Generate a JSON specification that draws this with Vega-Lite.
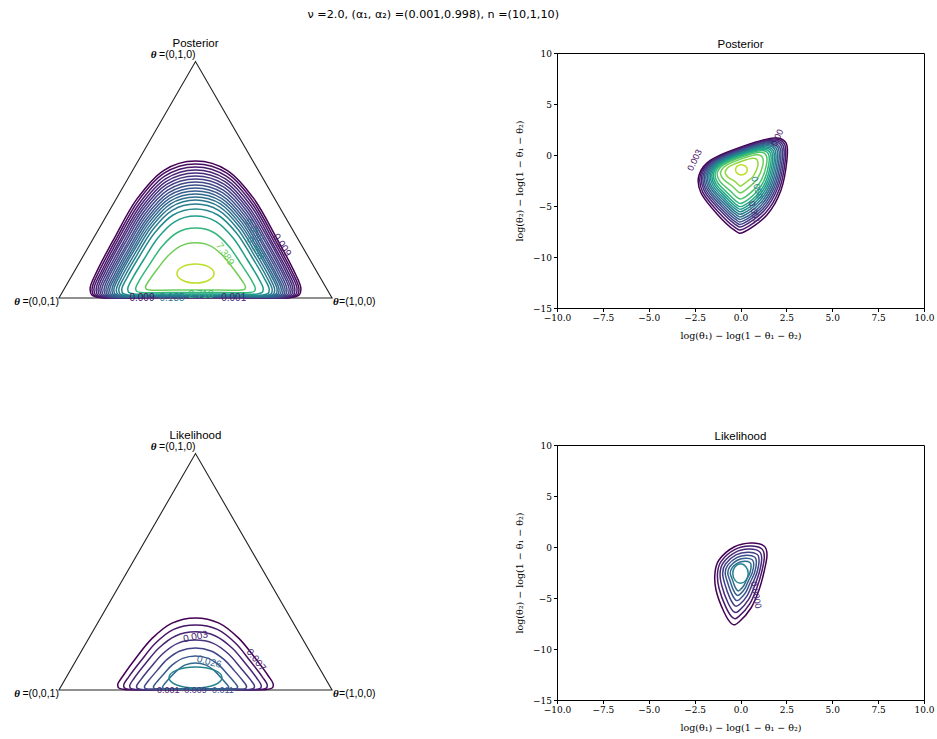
{
"$schema":"https://vega.github.io/schema/vega-lite/v6.json",
"padding":{"left":12,"top":8,"right":5,"bottom":5},
"title":{"text":"ν =2.0, (α₁, α₂) =(0.001,0.998), n =(10,1,10)","font":"DejaVu Sans","fontSize":11.2,"fontWeight":"normal","fontStyle":"normal","color":"#000","anchor":"middle","offset":18,"dx":-40},
"config":{"view":{"stroke":null},"axis":{"grid":false,"domainColor":"#000","tickColor":"#000","labelColor":"#000","titleColor":"#000","labelFont":"DejaVu Serif","titleFont":"DejaVu Serif","labelFontSize":9,"titleFontSize":9.5,"titleFontWeight":"normal","tickSize":3.5,"labelFlush":false,"labelOverlap":false,"titlePadding":8},"title":{"font":"Liberation Sans","fontSize":11.5,"fontWeight":"normal","color":"#000","offset":-1}},
"datasets":{
"tri":[{"x":0,"y":0},{"x":1,"y":0},{"x":0.5,"y":0.866}],
"ptl":[{"c":0,"t":0},{"c":1,"t":0.03},{"c":2,"t":0.06},{"c":3,"t":0.09},{"c":4,"t":0.12},{"c":5,"t":0.15},{"c":6,"t":0.18},{"c":7,"t":0.21},{"c":8,"t":0.24},{"c":9,"t":0.27},{"c":10,"t":0.3},{"c":11,"t":0.33},{"c":12,"t":0.36},{"c":13,"t":0.39},{"c":14,"t":0.42},{"c":15,"t":0.47},{"c":16,"t":0.55},{"c":17,"t":0.66},{"c":18,"t":0.78},{"c":19,"t":0.9}],
"pcl":[{"c":0,"t":0},{"c":1,"t":0.06},{"c":2,"t":0.12},{"c":3,"t":0.18},{"c":4,"t":0.24},{"c":5,"t":0.3},{"c":6,"t":0.36},{"c":7,"t":0.42},{"c":8,"t":0.48},{"c":9,"t":0.54},{"c":10,"t":0.6},{"c":11,"t":0.66},{"c":12,"t":0.72},{"c":13,"t":0.78},{"c":14,"t":0.84},{"c":15,"t":0.9}],
"ltl":[{"c":0,"t":0},{"c":1,"t":0.05},{"c":2,"t":0.1},{"c":3,"t":0.15},{"c":4,"t":0.2},{"c":5,"t":0.27},{"c":6,"t":0.34},{"c":7,"t":0.45}],
"lcl":[{"c":0,"t":0},{"c":1,"t":0.06},{"c":2,"t":0.12},{"c":3,"t":0.18},{"c":4,"t":0.24},{"c":5,"t":0.3},{"c":6,"t":0.36},{"c":7,"t":0.45}],
"pt":[
{"c":0,"x":0.5,"y":0.502},{"c":0,"x":0.617,"y":0.467},{"c":0,"x":0.715,"y":0.362},{"c":0,"x":0.793,"y":0.227},{"c":0,"x":0.859,"y":0.102},{"c":0,"x":0.886,"y":0.032},{"c":0,"x":0.851,"y":0.002},{"c":0,"x":0.676,"y":0.002},{"c":0,"x":0.324,"y":0.002},{"c":0,"x":0.149,"y":0.002},{"c":0,"x":0.114,"y":0.032},{"c":0,"x":0.141,"y":0.102},{"c":0,"x":0.207,"y":0.227},{"c":0,"x":0.285,"y":0.362},{"c":0,"x":0.383,"y":0.467},
{"c":1,"x":0.5,"y":0.491},{"c":1,"x":0.615,"y":0.457},{"c":1,"x":0.711,"y":0.354},{"c":1,"x":0.787,"y":0.222},{"c":1,"x":0.852,"y":0.1},{"c":1,"x":0.879,"y":0.031},{"c":1,"x":0.845,"y":0.002},{"c":1,"x":0.672,"y":0.002},{"c":1,"x":0.328,"y":0.002},{"c":1,"x":0.155,"y":0.002},{"c":1,"x":0.121,"y":0.031},{"c":1,"x":0.148,"y":0.1},{"c":1,"x":0.213,"y":0.222},{"c":1,"x":0.289,"y":0.354},{"c":1,"x":0.385,"y":0.457},
{"c":2,"x":0.5,"y":0.48},{"c":2,"x":0.613,"y":0.446},{"c":2,"x":0.707,"y":0.346},{"c":2,"x":0.782,"y":0.217},{"c":2,"x":0.846,"y":0.097},{"c":2,"x":0.872,"y":0.031},{"c":2,"x":0.838,"y":0.002},{"c":2,"x":0.669,"y":0.002},{"c":2,"x":0.331,"y":0.002},{"c":2,"x":0.162,"y":0.002},{"c":2,"x":0.128,"y":0.031},{"c":2,"x":0.155,"y":0.097},{"c":2,"x":0.218,"y":0.217},{"c":2,"x":0.294,"y":0.346},{"c":2,"x":0.387,"y":0.446},
{"c":3,"x":0.5,"y":0.469},{"c":3,"x":0.61,"y":0.436},{"c":3,"x":0.703,"y":0.338},{"c":3,"x":0.776,"y":0.212},{"c":3,"x":0.839,"y":0.095},{"c":3,"x":0.864,"y":0.03},{"c":3,"x":0.831,"y":0.002},{"c":3,"x":0.666,"y":0.002},{"c":3,"x":0.334,"y":0.002},{"c":3,"x":0.169,"y":0.002},{"c":3,"x":0.136,"y":0.03},{"c":3,"x":0.161,"y":0.095},{"c":3,"x":0.224,"y":0.212},{"c":3,"x":0.298,"y":0.338},{"c":3,"x":0.39,"y":0.436},
{"c":4,"x":0.5,"y":0.458},{"c":4,"x":0.608,"y":0.426},{"c":4,"x":0.698,"y":0.33},{"c":4,"x":0.771,"y":0.208},{"c":4,"x":0.832,"y":0.094},{"c":4,"x":0.857,"y":0.03},{"c":4,"x":0.825,"y":0.003},{"c":4,"x":0.662,"y":0.003},{"c":4,"x":0.338,"y":0.003},{"c":4,"x":0.175,"y":0.003},{"c":4,"x":0.143,"y":0.03},{"c":4,"x":0.168,"y":0.094},{"c":4,"x":0.229,"y":0.208},{"c":4,"x":0.302,"y":0.33},{"c":4,"x":0.392,"y":0.426},
{"c":5,"x":0.5,"y":0.447},{"c":5,"x":0.606,"y":0.416},{"c":5,"x":0.694,"y":0.323},{"c":5,"x":0.765,"y":0.203},{"c":5,"x":0.825,"y":0.092},{"c":5,"x":0.85,"y":0.03},{"c":5,"x":0.818,"y":0.003},{"c":5,"x":0.659,"y":0.003},{"c":5,"x":0.341,"y":0.003},{"c":5,"x":0.182,"y":0.003},{"c":5,"x":0.15,"y":0.03},{"c":5,"x":0.175,"y":0.092},{"c":5,"x":0.235,"y":0.203},{"c":5,"x":0.306,"y":0.323},{"c":5,"x":0.394,"y":0.416},
{"c":6,"x":0.5,"y":0.436},{"c":6,"x":0.604,"y":0.406},{"c":6,"x":0.69,"y":0.315},{"c":6,"x":0.76,"y":0.198},{"c":6,"x":0.819,"y":0.09},{"c":6,"x":0.843,"y":0.03},{"c":6,"x":0.812,"y":0.004},{"c":6,"x":0.656,"y":0.004},{"c":6,"x":0.344,"y":0.004},{"c":6,"x":0.188,"y":0.004},{"c":6,"x":0.157,"y":0.03},{"c":6,"x":0.182,"y":0.09},{"c":6,"x":0.24,"y":0.198},{"c":6,"x":0.31,"y":0.315},{"c":6,"x":0.396,"y":0.406},
{"c":7,"x":0.5,"y":0.425},{"c":7,"x":0.602,"y":0.395},{"c":7,"x":0.686,"y":0.307},{"c":7,"x":0.754,"y":0.193},{"c":7,"x":0.812,"y":0.088},{"c":7,"x":0.835,"y":0.029},{"c":7,"x":0.805,"y":0.004},{"c":7,"x":0.653,"y":0.004},{"c":7,"x":0.347,"y":0.004},{"c":7,"x":0.195,"y":0.004},{"c":7,"x":0.165,"y":0.029},{"c":7,"x":0.188,"y":0.088},{"c":7,"x":0.246,"y":0.193},{"c":7,"x":0.314,"y":0.307},{"c":7,"x":0.398,"y":0.395},
{"c":8,"x":0.5,"y":0.414},{"c":8,"x":0.6,"y":0.385},{"c":8,"x":0.682,"y":0.299},{"c":8,"x":0.749,"y":0.189},{"c":8,"x":0.805,"y":0.086},{"c":8,"x":0.828,"y":0.029},{"c":8,"x":0.798,"y":0.004},{"c":8,"x":0.649,"y":0.004},{"c":8,"x":0.351,"y":0.004},{"c":8,"x":0.202,"y":0.004},{"c":8,"x":0.172,"y":0.029},{"c":8,"x":0.195,"y":0.086},{"c":8,"x":0.251,"y":0.189},{"c":8,"x":0.318,"y":0.299},{"c":8,"x":0.401,"y":0.385},
{"c":9,"x":0.5,"y":0.403},{"c":9,"x":0.597,"y":0.375},{"c":9,"x":0.678,"y":0.291},{"c":9,"x":0.743,"y":0.184},{"c":9,"x":0.798,"y":0.084},{"c":9,"x":0.821,"y":0.029},{"c":9,"x":0.792,"y":0.005},{"c":9,"x":0.646,"y":0.005},{"c":9,"x":0.354,"y":0.005},{"c":9,"x":0.208,"y":0.005},{"c":9,"x":0.179,"y":0.029},{"c":9,"x":0.202,"y":0.084},{"c":9,"x":0.257,"y":0.184},{"c":9,"x":0.322,"y":0.291},{"c":9,"x":0.403,"y":0.375},
{"c":10,"x":0.5,"y":0.392},{"c":10,"x":0.595,"y":0.365},{"c":10,"x":0.674,"y":0.284},{"c":10,"x":0.738,"y":0.179},{"c":10,"x":0.792,"y":0.083},{"c":10,"x":0.814,"y":0.029},{"c":10,"x":0.785,"y":0.006},{"c":10,"x":0.643,"y":0.006},{"c":10,"x":0.357,"y":0.006},{"c":10,"x":0.215,"y":0.006},{"c":10,"x":0.186,"y":0.029},{"c":10,"x":0.209,"y":0.083},{"c":10,"x":0.262,"y":0.179},{"c":10,"x":0.326,"y":0.284},{"c":10,"x":0.405,"y":0.365},
{"c":11,"x":0.5,"y":0.381},{"c":11,"x":0.593,"y":0.355},{"c":11,"x":0.67,"y":0.276},{"c":11,"x":0.732,"y":0.175},{"c":11,"x":0.785,"y":0.081},{"c":11,"x":0.806,"y":0.029},{"c":11,"x":0.779,"y":0.006},{"c":11,"x":0.639,"y":0.006},{"c":11,"x":0.361,"y":0.006},{"c":11,"x":0.221,"y":0.006},{"c":11,"x":0.194,"y":0.029},{"c":11,"x":0.215,"y":0.081},{"c":11,"x":0.268,"y":0.175},{"c":11,"x":0.33,"y":0.276},{"c":11,"x":0.407,"y":0.355},
{"c":12,"x":0.5,"y":0.37},{"c":12,"x":0.591,"y":0.345},{"c":12,"x":0.666,"y":0.268},{"c":12,"x":0.727,"y":0.171},{"c":12,"x":0.778,"y":0.08},{"c":12,"x":0.799,"y":0.029},{"c":12,"x":0.772,"y":0.007},{"c":12,"x":0.636,"y":0.007},{"c":12,"x":0.364,"y":0.007},{"c":12,"x":0.228,"y":0.007},{"c":12,"x":0.201,"y":0.029},{"c":12,"x":0.222,"y":0.08},{"c":12,"x":0.273,"y":0.171},{"c":12,"x":0.334,"y":0.268},{"c":12,"x":0.409,"y":0.345},
{"c":13,"x":0.5,"y":0.359},{"c":13,"x":0.588,"y":0.334},{"c":13,"x":0.661,"y":0.261},{"c":13,"x":0.72,"y":0.166},{"c":13,"x":0.77,"y":0.078},{"c":13,"x":0.79,"y":0.029},{"c":13,"x":0.764,"y":0.008},{"c":13,"x":0.632,"y":0.008},{"c":13,"x":0.368,"y":0.008},{"c":13,"x":0.236,"y":0.008},{"c":13,"x":0.21,"y":0.029},{"c":13,"x":0.23,"y":0.078},{"c":13,"x":0.28,"y":0.166},{"c":13,"x":0.339,"y":0.261},{"c":13,"x":0.412,"y":0.334},
{"c":14,"x":0.5,"y":0.344},{"c":14,"x":0.585,"y":0.321},{"c":14,"x":0.656,"y":0.251},{"c":14,"x":0.713,"y":0.16},{"c":14,"x":0.761,"y":0.076},{"c":14,"x":0.781,"y":0.029},{"c":14,"x":0.756,"y":0.009},{"c":14,"x":0.628,"y":0.009},{"c":14,"x":0.372,"y":0.009},{"c":14,"x":0.245,"y":0.009},{"c":14,"x":0.219,"y":0.029},{"c":14,"x":0.239,"y":0.076},{"c":14,"x":0.287,"y":0.16},{"c":14,"x":0.344,"y":0.251},{"c":14,"x":0.415,"y":0.321},
{"c":15,"x":0.5,"y":0.326},{"c":15,"x":0.582,"y":0.304},{"c":15,"x":0.65,"y":0.238},{"c":15,"x":0.705,"y":0.153},{"c":15,"x":0.751,"y":0.074},{"c":15,"x":0.77,"y":0.03},{"c":15,"x":0.746,"y":0.011},{"c":15,"x":0.623,"y":0.011},{"c":15,"x":0.377,"y":0.011},{"c":15,"x":0.254,"y":0.011},{"c":15,"x":0.23,"y":0.03},{"c":15,"x":0.249,"y":0.074},{"c":15,"x":0.295,"y":0.153},{"c":15,"x":0.35,"y":0.238},{"c":15,"x":0.418,"y":0.304},
{"c":16,"x":0.5,"y":0.3},{"c":16,"x":0.575,"y":0.28},{"c":16,"x":0.638,"y":0.22},{"c":16,"x":0.688,"y":0.143},{"c":16,"x":0.731,"y":0.072},{"c":16,"x":0.748,"y":0.032},{"c":16,"x":0.726,"y":0.015},{"c":16,"x":0.613,"y":0.015},{"c":16,"x":0.387,"y":0.015},{"c":16,"x":0.274,"y":0.015},{"c":16,"x":0.252,"y":0.032},{"c":16,"x":0.269,"y":0.072},{"c":16,"x":0.312,"y":0.143},{"c":16,"x":0.362,"y":0.22},{"c":16,"x":0.425,"y":0.28},
{"c":17,"x":0.5,"y":0.256},{"c":17,"x":0.567,"y":0.24},{"c":17,"x":0.622,"y":0.19},{"c":17,"x":0.666,"y":0.126},{"c":17,"x":0.704,"y":0.067},{"c":17,"x":0.719,"y":0.034},{"c":17,"x":0.699,"y":0.02},{"c":17,"x":0.6,"y":0.02},{"c":17,"x":0.4,"y":0.02},{"c":17,"x":0.301,"y":0.02},{"c":17,"x":0.281,"y":0.034},{"c":17,"x":0.296,"y":0.067},{"c":17,"x":0.334,"y":0.126},{"c":17,"x":0.378,"y":0.19},{"c":17,"x":0.434,"y":0.24},
{"c":18,"x":0.5,"y":0.202},{"c":18,"x":0.556,"y":0.19},{"c":18,"x":0.602,"y":0.153},{"c":18,"x":0.639,"y":0.107},{"c":18,"x":0.67,"y":0.064},{"c":18,"x":0.683,"y":0.04},{"c":18,"x":0.667,"y":0.029},{"c":18,"x":0.583,"y":0.029},{"c":18,"x":0.417,"y":0.029},{"c":18,"x":0.334,"y":0.029},{"c":18,"x":0.317,"y":0.04},{"c":18,"x":0.33,"y":0.064},{"c":18,"x":0.361,"y":0.107},{"c":18,"x":0.398,"y":0.153},{"c":18,"x":0.445,"y":0.19},
{"c":19,"x":0.5,"y":0.1245},{"c":19,"x":0.548,"y":0.1143},{"c":19,"x":0.568,"y":0.0897},{"c":19,"x":0.548,"y":0.0651},{"c":19,"x":0.5,"y":0.0549},{"c":19,"x":0.452,"y":0.0651},{"c":19,"x":0.432,"y":0.0897},{"c":19,"x":0.452,"y":0.1143}
],
"pc":[
{"c":0,"x":-1.61,"y":-0.49},{"c":0,"x":0.19,"y":0.88},{"c":0,"x":1.83,"y":1.67},{"c":0,"x":2.48,"y":1.18},{"c":0,"x":2.53,"y":-0.49},{"c":0,"x":2.21,"y":-3.43},{"c":0,"x":1.44,"y":-5.88},{"c":0,"x":0.19,"y":-7.55},{"c":0,"x":-0.35,"y":-7.35},{"c":0,"x":-1.28,"y":-5.78},{"c":0,"x":-2.15,"y":-3.73},{"c":0,"x":-2.26,"y":-1.96},
{"c":1,"x":-1.554,"y":-0.525},{"c":1,"x":0.183,"y":0.797},{"c":1,"x":1.766,"y":1.559},{"c":1,"x":2.393,"y":1.086},{"c":1,"x":2.441,"y":-0.525},{"c":1,"x":2.116,"y":-3.348},{"c":1,"x":1.368,"y":-5.661},{"c":1,"x":0.181,"y":-7.248},{"c":1,"x":-0.333,"y":-7.058},{"c":1,"x":-1.216,"y":-5.566},{"c":1,"x":-2.059,"y":-3.635},{"c":1,"x":-2.181,"y":-1.944},
{"c":2,"x":-1.497,"y":-0.561},{"c":2,"x":0.177,"y":0.713},{"c":2,"x":1.702,"y":1.448},{"c":2,"x":2.306,"y":0.992},{"c":2,"x":2.353,"y":-0.561},{"c":2,"x":2.022,"y":-3.266},{"c":2,"x":1.296,"y":-5.442},{"c":2,"x":0.171,"y":-6.945},{"c":2,"x":-0.315,"y":-6.765},{"c":2,"x":-1.152,"y":-5.352},{"c":2,"x":-1.967,"y":-3.54},{"c":2,"x":-2.102,"y":-1.928},
{"c":3,"x":-1.441,"y":-0.596},{"c":3,"x":0.17,"y":0.63},{"c":3,"x":1.638,"y":1.337},{"c":3,"x":2.22,"y":0.899},{"c":3,"x":2.264,"y":-0.596},{"c":3,"x":1.939,"y":-3.194},{"c":3,"x":1.238,"y":-5.267},{"c":3,"x":0.163,"y":-6.703},{"c":3,"x":-0.301,"y":-6.531},{"c":3,"x":-1.101,"y":-5.181},{"c":3,"x":-1.887,"y":-3.457},{"c":3,"x":-2.023,"y":-1.912},
{"c":4,"x":-1.385,"y":-0.631},{"c":4,"x":0.163,"y":0.547},{"c":4,"x":1.574,"y":1.226},{"c":4,"x":2.133,"y":0.805},{"c":4,"x":2.176,"y":-0.631},{"c":4,"x":1.856,"y":-3.121},{"c":4,"x":1.181,"y":-5.092},{"c":4,"x":0.156,"y":-6.461},{"c":4,"x":-0.287,"y":-6.297},{"c":4,"x":-1.05,"y":-5.01},{"c":4,"x":-1.806,"y":-3.373},{"c":4,"x":-1.944,"y":-1.896},
{"c":5,"x":-1.328,"y":-0.667},{"c":5,"x":0.157,"y":0.464},{"c":5,"x":1.51,"y":1.115},{"c":5,"x":2.046,"y":0.711},{"c":5,"x":2.087,"y":-0.667},{"c":5,"x":1.774,"y":-3.049},{"c":5,"x":1.123,"y":-4.916},{"c":5,"x":0.148,"y":-6.219},{"c":5,"x":-0.273,"y":-6.063},{"c":5,"x":-0.998,"y":-4.838},{"c":5,"x":-1.725,"y":-3.29},{"c":5,"x":-1.865,"y":-1.88},
{"c":6,"x":-1.272,"y":-0.702},{"c":6,"x":0.15,"y":0.38},{"c":6,"x":1.446,"y":1.004},{"c":6,"x":1.959,"y":0.617},{"c":6,"x":1.999,"y":-0.702},{"c":6,"x":1.691,"y":-2.976},{"c":6,"x":1.066,"y":-4.741},{"c":6,"x":0.141,"y":-5.977},{"c":6,"x":-0.259,"y":-5.829},{"c":6,"x":-0.947,"y":-4.667},{"c":6,"x":-1.645,"y":-3.206},{"c":6,"x":-1.785,"y":-1.863},
{"c":7,"x":-1.216,"y":-0.737},{"c":7,"x":0.143,"y":0.297},{"c":7,"x":1.382,"y":0.893},{"c":7,"x":1.872,"y":0.523},{"c":7,"x":1.91,"y":-0.737},{"c":7,"x":1.608,"y":-2.904},{"c":7,"x":1.008,"y":-4.566},{"c":7,"x":0.133,"y":-5.735},{"c":7,"x":-0.245,"y":-5.595},{"c":7,"x":-0.896,"y":-4.496},{"c":7,"x":-1.564,"y":-3.122},{"c":7,"x":-1.706,"y":-1.847},
{"c":8,"x":-1.159,"y":-0.773},{"c":8,"x":0.137,"y":0.214},{"c":8,"x":1.318,"y":0.782},{"c":8,"x":1.786,"y":0.43},{"c":8,"x":1.822,"y":-0.773},{"c":8,"x":1.525,"y":-2.832},{"c":8,"x":0.95,"y":-4.391},{"c":8,"x":0.125,"y":-5.493},{"c":8,"x":-0.231,"y":-5.361},{"c":8,"x":-0.845,"y":-4.325},{"c":8,"x":-1.484,"y":-3.039},{"c":8,"x":-1.627,"y":-1.831},
{"c":9,"x":-1.103,"y":-0.808},{"c":9,"x":0.13,"y":0.13},{"c":9,"x":1.254,"y":0.671},{"c":9,"x":1.699,"y":0.336},{"c":9,"x":1.733,"y":-0.808},{"c":9,"x":1.442,"y":-2.759},{"c":9,"x":0.893,"y":-4.216},{"c":9,"x":0.118,"y":-5.251},{"c":9,"x":-0.217,"y":-5.127},{"c":9,"x":-0.794,"y":-4.154},{"c":9,"x":-1.403,"y":-2.955},{"c":9,"x":-1.548,"y":-1.815},
{"c":10,"x":-1.047,"y":-0.843},{"c":10,"x":0.124,"y":0.047},{"c":10,"x":1.19,"y":0.561},{"c":10,"x":1.612,"y":0.242},{"c":10,"x":1.645,"y":-0.843},{"c":10,"x":1.359,"y":-2.687},{"c":10,"x":0.835,"y":-4.04},{"c":10,"x":0.11,"y":-5.009},{"c":10,"x":-0.203,"y":-4.893},{"c":10,"x":-0.742,"y":-3.982},{"c":10,"x":-1.322,"y":-2.871},{"c":10,"x":-1.469,"y":-1.799},
{"c":11,"x":-0.982,"y":-0.884},{"c":11,"x":0.116,"y":-0.048},{"c":11,"x":1.116,"y":0.434},{"c":11,"x":1.513,"y":0.135},{"c":11,"x":1.543,"y":-0.884},{"c":11,"x":1.26,"y":-2.6},{"c":11,"x":0.763,"y":-3.821},{"c":11,"x":0.101,"y":-4.707},{"c":11,"x":-0.186,"y":-4.601},{"c":11,"x":-0.678,"y":-3.768},{"c":11,"x":-1.226,"y":-2.771},{"c":11,"x":-1.379,"y":-1.781},
{"c":12,"x":-0.902,"y":-0.934},{"c":12,"x":0.106,"y":-0.167},{"c":12,"x":1.025,"y":0.275},{"c":12,"x":1.389,"y":0.001},{"c":12,"x":1.417,"y":-0.934},{"c":12,"x":1.127,"y":-2.484},{"c":12,"x":0.662,"y":-3.515},{"c":12,"x":0.087,"y":-4.283},{"c":12,"x":-0.161,"y":-4.191},{"c":12,"x":-0.589,"y":-3.469},{"c":12,"x":-1.097,"y":-2.637},{"c":12,"x":-1.266,"y":-1.758},
{"c":13,"x":-0.773,"y":-1.015},{"c":13,"x":0.091,"y":-0.358},{"c":13,"x":0.878,"y":0.022},{"c":13,"x":1.19,"y":-0.214},{"c":13,"x":1.214,"y":-1.015},{"c":13,"x":0.928,"y":-2.311},{"c":13,"x":0.518,"y":-3.077},{"c":13,"x":0.068,"y":-3.678},{"c":13,"x":-0.126,"y":-3.606},{"c":13,"x":-0.461,"y":-3.041},{"c":13,"x":-0.903,"y":-2.437},{"c":13,"x":-1.085,"y":-1.721},
{"c":14,"x":-0.596,"y":-1.126},{"c":14,"x":0.07,"y":-0.619},{"c":14,"x":0.677,"y":-0.327},{"c":14,"x":0.918,"y":-0.508},{"c":14,"x":0.936,"y":-1.126},{"c":14,"x":0.685,"y":-2.098},{"c":14,"x":0.36,"y":-2.595},{"c":14,"x":0.048,"y":-3.013},{"c":14,"x":-0.088,"y":-2.963},{"c":14,"x":-0.32,"y":-2.57},{"c":14,"x":-0.667,"y":-2.191},{"c":14,"x":-0.836,"y":-1.67},
{"c":15,"x":0.05,"y":-0.95},{"c":15,"x":0.276,"y":-1.096},{"c":15,"x":0.37,"y":-1.45},{"c":15,"x":0.276,"y":-1.804},{"c":15,"x":0.05,"y":-1.95},{"c":15,"x":-0.176,"y":-1.804},{"c":15,"x":-0.27,"y":-1.45},{"c":15,"x":-0.176,"y":-1.096}
],
"lt":[
{"c":0,"x":0.5,"y":0.264},{"c":0,"x":0.586,"y":0.245},{"c":0,"x":0.658,"y":0.19},{"c":0,"x":0.716,"y":0.12},{"c":0,"x":0.765,"y":0.054},{"c":0,"x":0.785,"y":0.018},{"c":0,"x":0.759,"y":0.002},{"c":0,"x":0.629,"y":0.002},{"c":0,"x":0.371,"y":0.002},{"c":0,"x":0.241,"y":0.002},{"c":0,"x":0.215,"y":0.018},{"c":0,"x":0.236,"y":0.054},{"c":0,"x":0.284,"y":0.12},{"c":0,"x":0.342,"y":0.19},{"c":0,"x":0.414,"y":0.245},
{"c":1,"x":0.5,"y":0.238},{"c":1,"x":0.58,"y":0.222},{"c":1,"x":0.646,"y":0.172},{"c":1,"x":0.699,"y":0.108},{"c":1,"x":0.744,"y":0.049},{"c":1,"x":0.763,"y":0.016},{"c":1,"x":0.739,"y":0.002},{"c":1,"x":0.62,"y":0.002},{"c":1,"x":0.381,"y":0.002},{"c":1,"x":0.261,"y":0.002},{"c":1,"x":0.237,"y":0.016},{"c":1,"x":0.256,"y":0.049},{"c":1,"x":0.301,"y":0.108},{"c":1,"x":0.354,"y":0.172},{"c":1,"x":0.42,"y":0.222},
{"c":2,"x":0.5,"y":0.213},{"c":2,"x":0.573,"y":0.198},{"c":2,"x":0.634,"y":0.154},{"c":2,"x":0.683,"y":0.097},{"c":2,"x":0.724,"y":0.044},{"c":2,"x":0.741,"y":0.014},{"c":2,"x":0.719,"y":0.002},{"c":2,"x":0.61,"y":0.002},{"c":2,"x":0.39,"y":0.002},{"c":2,"x":0.281,"y":0.002},{"c":2,"x":0.259,"y":0.014},{"c":2,"x":0.276,"y":0.044},{"c":2,"x":0.317,"y":0.097},{"c":2,"x":0.366,"y":0.154},{"c":2,"x":0.427,"y":0.198},
{"c":3,"x":0.5,"y":0.183},{"c":3,"x":0.565,"y":0.171},{"c":3,"x":0.62,"y":0.133},{"c":3,"x":0.663,"y":0.084},{"c":3,"x":0.701,"y":0.038},{"c":3,"x":0.716,"y":0.013},{"c":3,"x":0.696,"y":0.002},{"c":3,"x":0.598,"y":0.002},{"c":3,"x":0.402,"y":0.002},{"c":3,"x":0.304,"y":0.002},{"c":3,"x":0.284,"y":0.013},{"c":3,"x":0.3,"y":0.038},{"c":3,"x":0.337,"y":0.084},{"c":3,"x":0.38,"y":0.133},{"c":3,"x":0.435,"y":0.171},
{"c":4,"x":0.5,"y":0.154},{"c":4,"x":0.557,"y":0.143},{"c":4,"x":0.604,"y":0.112},{"c":4,"x":0.642,"y":0.071},{"c":4,"x":0.674,"y":0.033},{"c":4,"x":0.687,"y":0.012},{"c":4,"x":0.67,"y":0.003},{"c":4,"x":0.585,"y":0.003},{"c":4,"x":0.415,"y":0.003},{"c":4,"x":0.33,"y":0.003},{"c":4,"x":0.313,"y":0.012},{"c":4,"x":0.327,"y":0.033},{"c":4,"x":0.359,"y":0.071},{"c":4,"x":0.396,"y":0.112},{"c":4,"x":0.443,"y":0.143},
{"c":5,"x":0.5,"y":0.125},{"c":5,"x":0.547,"y":0.116},{"c":5,"x":0.586,"y":0.091},{"c":5,"x":0.617,"y":0.058},{"c":5,"x":0.643,"y":0.028},{"c":5,"x":0.654,"y":0.011},{"c":5,"x":0.64,"y":0.003},{"c":5,"x":0.57,"y":0.003},{"c":5,"x":0.43,"y":0.003},{"c":5,"x":0.36,"y":0.003},{"c":5,"x":0.346,"y":0.011},{"c":5,"x":0.357,"y":0.028},{"c":5,"x":0.383,"y":0.058},{"c":5,"x":0.414,"y":0.091},{"c":5,"x":0.453,"y":0.116},
{"c":6,"x":0.5,"y":0.099},{"c":6,"x":0.537,"y":0.092},{"c":6,"x":0.568,"y":0.072},{"c":6,"x":0.592,"y":0.047},{"c":6,"x":0.613,"y":0.023},{"c":6,"x":0.622,"y":0.01},{"c":6,"x":0.61,"y":0.004},{"c":6,"x":0.555,"y":0.004},{"c":6,"x":0.445,"y":0.004},{"c":6,"x":0.39,"y":0.004},{"c":6,"x":0.379,"y":0.01},{"c":6,"x":0.387,"y":0.023},{"c":6,"x":0.408,"y":0.047},{"c":6,"x":0.433,"y":0.072},{"c":6,"x":0.463,"y":0.092},
{"c":7,"x":0.5,"y":0.0843},{"c":7,"x":0.569,"y":0.073},{"c":7,"x":0.597,"y":0.0458},{"c":7,"x":0.569,"y":0.0186},{"c":7,"x":0.5,"y":0.0073},{"c":7,"x":0.431,"y":0.0186},{"c":7,"x":0.403,"y":0.0458},{"c":7,"x":0.431,"y":0.073}
],
"lc":[
{"c":0,"x":-1.172,"y":-1.275},{"c":0,"x":-0.354,"y":0.0},{"c":0,"x":0.572,"y":0.392},{"c":0,"x":1.281,"y":0.098},{"c":0,"x":1.444,"y":-0.784},{"c":0,"x":1.281,"y":-2.451},{"c":0,"x":1.008,"y":-4.216},{"c":0,"x":0.572,"y":-5.98},{"c":0,"x":-0.082,"y":-7.353},{"c":0,"x":-0.463,"y":-7.549},{"c":0,"x":-0.899,"y":-6.373},{"c":0,"x":-1.335,"y":-4.216},{"c":0,"x":-1.39,"y":-2.549},
{"c":1,"x":-1.055,"y":-1.407},{"c":1,"x":-0.319,"y":-0.26},{"c":1,"x":0.515,"y":0.093},{"c":1,"x":1.153,"y":-0.172},{"c":1,"x":1.3,"y":-0.966},{"c":1,"x":1.153,"y":-2.466},{"c":1,"x":0.887,"y":-4.022},{"c":1,"x":0.503,"y":-5.574},{"c":1,"x":-0.072,"y":-6.783},{"c":1,"x":-0.407,"y":-6.955},{"c":1,"x":-0.791,"y":-5.92},{"c":1,"x":-1.175,"y":-4.022},{"c":1,"x":-1.251,"y":-2.554},
{"c":2,"x":-0.938,"y":-1.54},{"c":2,"x":-0.283,"y":-0.52},{"c":2,"x":0.458,"y":-0.206},{"c":2,"x":1.025,"y":-0.442},{"c":2,"x":1.155,"y":-1.147},{"c":2,"x":1.025,"y":-2.481},{"c":2,"x":0.766,"y":-3.828},{"c":2,"x":0.435,"y":-5.169},{"c":2,"x":-0.062,"y":-6.212},{"c":2,"x":-0.352,"y":-6.361},{"c":2,"x":-0.683,"y":-5.467},{"c":2,"x":-1.015,"y":-3.828},{"c":2,"x":-1.112,"y":-2.559},
{"c":3,"x":-0.82,"y":-1.672},{"c":3,"x":-0.248,"y":-0.78},{"c":3,"x":0.4,"y":-0.506},{"c":3,"x":0.897,"y":-0.711},{"c":3,"x":1.011,"y":-1.329},{"c":3,"x":0.897,"y":-2.496},{"c":3,"x":0.645,"y":-3.634},{"c":3,"x":0.366,"y":-4.763},{"c":3,"x":-0.052,"y":-5.642},{"c":3,"x":-0.296,"y":-5.767},{"c":3,"x":-0.575,"y":-5.015},{"c":3,"x":-0.854,"y":-3.634},{"c":3,"x":-0.973,"y":-2.564},
{"c":4,"x":-0.703,"y":-1.805},{"c":4,"x":-0.212,"y":-1.04},{"c":4,"x":0.343,"y":-0.805},{"c":4,"x":0.769,"y":-0.981},{"c":4,"x":0.866,"y":-1.51},{"c":4,"x":0.769,"y":-2.511},{"c":4,"x":0.534,"y":-3.456},{"c":4,"x":0.303,"y":-4.391},{"c":4,"x":-0.043,"y":-5.119},{"c":4,"x":-0.245,"y":-5.223},{"c":4,"x":-0.476,"y":-4.6},{"c":4,"x":-0.708,"y":-3.456},{"c":4,"x":-0.834,"y":-2.569},
{"c":5,"x":-0.586,"y":-1.938},{"c":5,"x":-0.177,"y":-1.3},{"c":5,"x":0.286,"y":-1.104},{"c":5,"x":0.641,"y":-1.251},{"c":5,"x":0.722,"y":-1.692},{"c":5,"x":0.641,"y":-2.526},{"c":5,"x":0.433,"y":-3.295},{"c":5,"x":0.246,"y":-4.053},{"c":5,"x":-0.035,"y":-4.644},{"c":5,"x":-0.199,"y":-4.728},{"c":5,"x":-0.387,"y":-4.222},{"c":5,"x":-0.574,"y":-3.295},{"c":5,"x":-0.695,"y":-2.574},
{"c":6,"x":-0.469,"y":-2.07},{"c":6,"x":-0.142,"y":-1.56},{"c":6,"x":0.229,"y":-1.403},{"c":6,"x":0.512,"y":-1.521},{"c":6,"x":0.578,"y":-1.874},{"c":6,"x":0.512,"y":-2.54},{"c":6,"x":0.343,"y":-3.149},{"c":6,"x":0.194,"y":-3.749},{"c":6,"x":-0.028,"y":-4.216},{"c":6,"x":-0.157,"y":-4.283},{"c":6,"x":-0.306,"y":-3.883},{"c":6,"x":-0.454,"y":-3.149},{"c":6,"x":-0.556,"y":-2.58},
{"c":7,"x":0,"y":-1.65},{"c":7,"x":0.297,"y":-1.928},{"c":7,"x":0.42,"y":-2.6},{"c":7,"x":0.297,"y":-3.272},{"c":7,"x":0,"y":-3.55},{"c":7,"x":-0.297,"y":-3.272},{"c":7,"x":-0.42,"y":-2.6},{"c":7,"x":-0.297,"y":-1.928}
]
},
"columns":2,
"bounds":"flush",
"spacing":{"row":137,"column":178},
"resolve":{"scale":{"x":"independent","y":"independent","color":"shared"}},
"concat":[
{
"width":367,"height":255,
"title":{"text":"Posterior"},
"encoding":{"x":{"field":"x","type":"quantitative","scale":{"domain":[-0.172,1.172],"nice":false,"zero":false},"axis":null},"y":{"field":"y","type":"quantitative","scale":{"domain":[-0.0366,0.8974],"nice":false,"zero":false},"axis":null}},
"layer":[
{"data":{"name":"tri"},"mark":{"type":"line","interpolate":"linear-closed","color":"#222","strokeWidth":1.1},"encoding":{"order":{"value":null}}},
{"data":{"name":"pt"},"transform":[{"lookup":"c","from":{"data":{"name":"ptl"},"key":"c","fields":["t"]}}],"mark":{"type":"line","interpolate":"cardinal-closed","strokeWidth":1.5},"encoding":{"detail":{"field":"c"},"order":{"value":null},"color":{"field":"t","type":"quantitative","scale":{"scheme":"viridis","domain":[0,1]},"legend":null}}},
{"data":{"values":[{"x":0.304,"y":0.0,"s":"0.009","t":0.05},{"x":0.414,"y":0.0,"s":"0.135","t":0.4},{"x":0.52,"y":0.012,"s":"2.718","t":0.66},{"x":0.64,"y":0.0,"s":"0.001","t":0.1}]},"mark":{"type":"text","font":"Liberation Sans","fontSize":10,"baseline":"middle"},"encoding":{"text":{"field":"s"},"color":{"field":"t","type":"quantitative","legend":null}}},
{"data":{"values":[{"x":0.608,"y":0.161,"s":"7.389","t":0.78},{"x":0.72,"y":0.183,"s":"0.368","t":0.47},{"x":0.714,"y":0.249,"s":"0.050","t":0.39},{"x":0.817,"y":0.194,"s":"0.009","t":0.06}]},"mark":{"type":"text","font":"Liberation Sans","fontSize":10,"baseline":"middle","angle":57},"encoding":{"text":{"field":"s"},"color":{"field":"t","type":"quantitative","legend":null}}},
{"data":{"values":[{"x":0.5,"y":0.866}]},"mark":{"type":"text","text":" =(0,1,0)","font":"Liberation Sans","fontSize":10.5,"align":"right","baseline":"alphabetic","dy":-4,"color":"#000"}},
{"data":{"values":[{"x":0.5,"y":0.866}]},"mark":{"type":"text","text":"θ","font":"Liberation Serif","fontWeight":"bold","fontStyle":"italic","fontSize":11,"align":"right","baseline":"alphabetic","dy":-4,"dx":-39,"color":"#000"}},
{"data":{"values":[{"x":0,"y":0}]},"mark":{"type":"text","text":" =(0,0,1)","font":"Liberation Sans","fontSize":10.5,"align":"right","baseline":"middle","dy":4,"color":"#000"}},
{"data":{"values":[{"x":0,"y":0}]},"mark":{"type":"text","text":"θ","font":"Liberation Serif","fontWeight":"bold","fontStyle":"italic","fontSize":11,"align":"right","baseline":"middle","dy":4,"dx":-39,"color":"#000"}},
{"data":{"values":[{"x":1,"y":0}]},"mark":{"type":"text","text":"θ","font":"Liberation Serif","fontWeight":"bold","fontStyle":"italic","fontSize":11,"align":"left","baseline":"middle","dy":4,"dx":1,"color":"#000"}},
{"data":{"values":[{"x":1,"y":0}]},"mark":{"type":"text","text":" =(1,0,0)","font":"Liberation Sans","fontSize":10.5,"align":"left","baseline":"middle","dy":4,"dx":7,"color":"#000"}}
]
},
{
"width":367,"height":255,
"title":{"text":"Posterior"},
"view":{"stroke":"#000","strokeWidth":1},
"encoding":{"x":{"field":"x","type":"quantitative","scale":{"domain":[-10,10],"nice":false,"zero":false},"axis":{"values":[-10,-7.5,-5,-2.5,0,2.5,5,7.5,10],"format":".1f","title":"log(θ₁) − log(1 − θ₁ − θ₂)"}},"y":{"field":"y","type":"quantitative","scale":{"domain":[-15,10],"nice":false,"zero":false},"axis":{"values":[-15,-10,-5,0,5,10],"format":"d","title":"log(θ₂) − log(1 − θ₁ − θ₂)"}}},
"layer":[
{"data":{"name":"pc"},"transform":[{"lookup":"c","from":{"data":{"name":"pcl"},"key":"c","fields":["t"]}}],"mark":{"type":"line","interpolate":"cardinal-closed","strokeWidth":1.5},"encoding":{"detail":{"field":"c"},"order":{"value":null},"color":{"field":"t","type":"quantitative","scale":{"scheme":"viridis","domain":[0,1]},"legend":null}}},
{"data":{"values":[{"x":-2.5,"y":-0.5,"s":"0.003","t":0.04},{"x":2.0,"y":1.7,"s":"0.00","t":0.04}]},"mark":{"type":"text","font":"Liberation Sans","fontSize":9,"baseline":"middle","angle":-65},"encoding":{"text":{"field":"s"},"color":{"field":"t","type":"quantitative","legend":null}}},
{"data":{"values":[{"x":0.9,"y":-3.2,"s":"0.050","t":0.42},{"x":0.75,"y":-5.6,"s":"0.001","t":0.1}]},"mark":{"type":"text","font":"Liberation Sans","fontSize":9,"baseline":"middle","angle":75},"encoding":{"text":{"field":"s"},"color":{"field":"t","type":"quantitative","legend":null}}}
]
},
{
"width":367,"height":255,
"title":{"text":"Likelihood"},
"encoding":{"x":{"field":"x","type":"quantitative","scale":{"domain":[-0.172,1.172],"nice":false,"zero":false},"axis":null},"y":{"field":"y","type":"quantitative","scale":{"domain":[-0.0366,0.8974],"nice":false,"zero":false},"axis":null}},
"layer":[
{"data":{"name":"tri"},"mark":{"type":"line","interpolate":"linear-closed","color":"#222","strokeWidth":1.1},"encoding":{"order":{"value":null}}},
{"data":{"name":"lt"},"transform":[{"lookup":"c","from":{"data":{"name":"ltl"},"key":"c","fields":["t"]}}],"mark":{"type":"line","interpolate":"cardinal-closed","strokeWidth":1.5},"encoding":{"detail":{"field":"c"},"order":{"value":null},"color":{"field":"t","type":"quantitative","scale":{"scheme":"viridis","domain":[0,1]},"legend":null}}},
{"data":{"values":[{"x":0.5,"y":0.195,"s":"0.003","t":0.08}]},"mark":{"type":"text","font":"Liberation Sans","fontSize":10,"baseline":"middle","angle":-12},"encoding":{"text":{"field":"s"},"color":{"field":"t","type":"quantitative","legend":null}}},
{"data":{"values":[{"x":0.55,"y":0.103,"s":"0.026","t":0.3}]},"mark":{"type":"text","font":"Liberation Sans","fontSize":10,"baseline":"middle","angle":15},"encoding":{"text":{"field":"s"},"color":{"field":"t","type":"quantitative","legend":null}}},
{"data":{"values":[{"x":0.722,"y":0.11,"s":"0.007","t":0.1}]},"mark":{"type":"text","font":"Liberation Sans","fontSize":10,"baseline":"middle","angle":52},"encoding":{"text":{"field":"s"},"color":{"field":"t","type":"quantitative","legend":null}}},
{"data":{"values":[{"x":0.4,"y":0.0,"s":"0.001","t":0.05},{"x":0.5,"y":0.0,"s":"0.009","t":0.15},{"x":0.6,"y":0.0,"s":"0.011","t":0.25}]},"mark":{"type":"text","font":"Liberation Sans","fontSize":9,"baseline":"middle"},"encoding":{"text":{"field":"s"},"color":{"field":"t","type":"quantitative","legend":null}}},
{"data":{"values":[{"x":0.5,"y":0.866}]},"mark":{"type":"text","text":" =(0,1,0)","font":"Liberation Sans","fontSize":10.5,"align":"right","baseline":"alphabetic","dy":-4,"color":"#000"}},
{"data":{"values":[{"x":0.5,"y":0.866}]},"mark":{"type":"text","text":"θ","font":"Liberation Serif","fontWeight":"bold","fontStyle":"italic","fontSize":11,"align":"right","baseline":"alphabetic","dy":-4,"dx":-39,"color":"#000"}},
{"data":{"values":[{"x":0,"y":0}]},"mark":{"type":"text","text":" =(0,0,1)","font":"Liberation Sans","fontSize":10.5,"align":"right","baseline":"middle","dy":4,"color":"#000"}},
{"data":{"values":[{"x":0,"y":0}]},"mark":{"type":"text","text":"θ","font":"Liberation Serif","fontWeight":"bold","fontStyle":"italic","fontSize":11,"align":"right","baseline":"middle","dy":4,"dx":-39,"color":"#000"}},
{"data":{"values":[{"x":1,"y":0}]},"mark":{"type":"text","text":"θ","font":"Liberation Serif","fontWeight":"bold","fontStyle":"italic","fontSize":11,"align":"left","baseline":"middle","dy":4,"dx":1,"color":"#000"}},
{"data":{"values":[{"x":1,"y":0}]},"mark":{"type":"text","text":" =(1,0,0)","font":"Liberation Sans","fontSize":10.5,"align":"left","baseline":"middle","dy":4,"dx":7,"color":"#000"}}
]
},
{
"width":367,"height":255,
"title":{"text":"Likelihood"},
"view":{"stroke":"#000","strokeWidth":1},
"encoding":{"x":{"field":"x","type":"quantitative","scale":{"domain":[-10,10],"nice":false,"zero":false},"axis":{"values":[-10,-7.5,-5,-2.5,0,2.5,5,7.5,10],"format":".1f","title":"log(θ₁) − log(1 − θ₁ − θ₂)"}},"y":{"field":"y","type":"quantitative","scale":{"domain":[-15,10],"nice":false,"zero":false},"axis":{"values":[-15,-10,-5,0,5,10],"format":"d","title":"log(θ₂) − log(1 − θ₁ − θ₂)"}}},
"layer":[
{"data":{"name":"lc"},"transform":[{"lookup":"c","from":{"data":{"name":"lcl"},"key":"c","fields":["t"]}}],"mark":{"type":"line","interpolate":"cardinal-closed","strokeWidth":1.5},"encoding":{"detail":{"field":"c"},"order":{"value":null},"color":{"field":"t","type":"quantitative","scale":{"scheme":"viridis","domain":[0,1]},"legend":null}}},
{"data":{"values":[{"x":0.85,"y":-4.7,"s":"0.0000","t":0.1}]},"mark":{"type":"text","font":"Liberation Sans","fontSize":9,"baseline":"middle","angle":80},"encoding":{"text":{"field":"s"},"color":{"field":"t","type":"quantitative","legend":null}}}
]
}
]
}
